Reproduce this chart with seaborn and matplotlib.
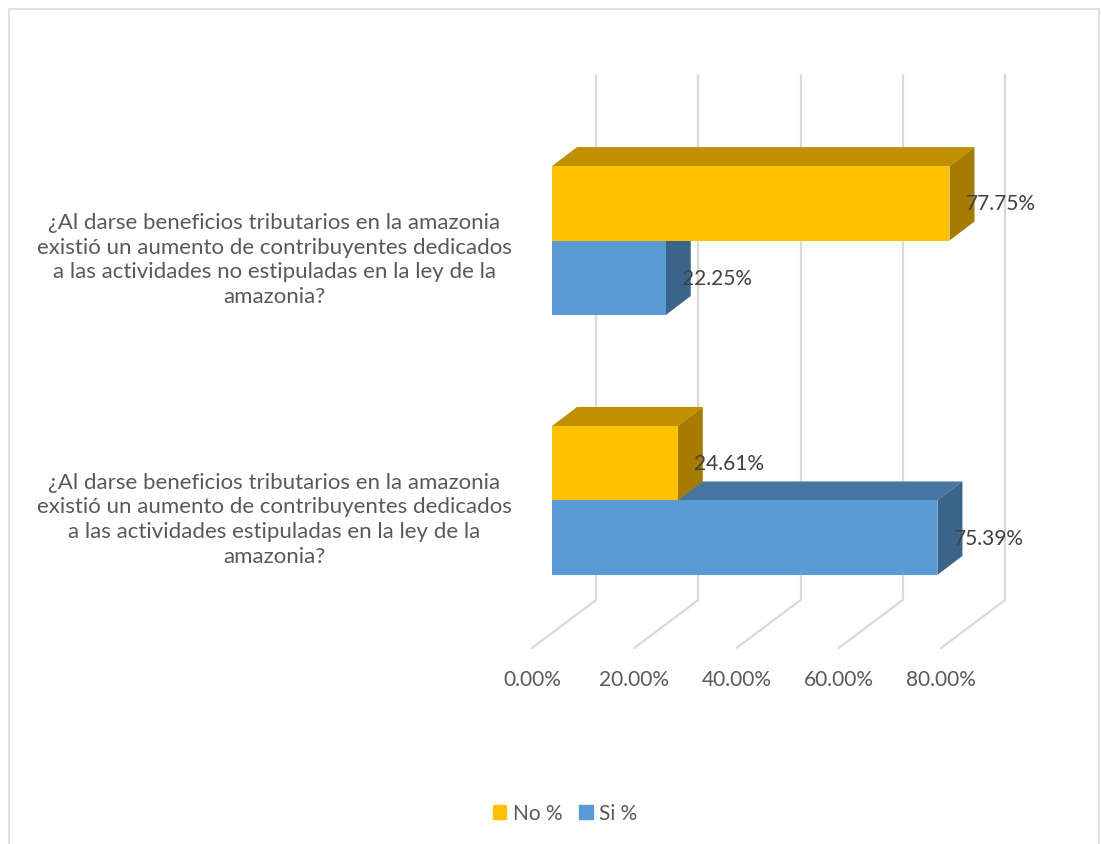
import numpy as np
import pandas as pd
import matplotlib
matplotlib.use("Agg")
import matplotlib.pyplot as plt
from matplotlib.patches import Polygon, Patch, Rectangle
from matplotlib.transforms import offset_copy, Affine2D
import seaborn as sns

# data (top question first)
preguntas = [
    "¿Al darse beneficios tributarios en la amazonia\nexistió un aumento de contribuyentes dedicados\na las actividades no estipuladas en la ley de la\namazonia?",
    "¿Al darse beneficios tributarios en la amazonia\nexistió un aumento de contribuyentes dedicados\na las actividades estipuladas en la ley de la\namazonia?",
]
no_pct = [77.75, 24.61]
si_pct = [22.25, 75.39]
series = ["No %", "Si %"]
x_ticks = [0, 20, 40, 60, 80]

front = {"No %": "#FFC000", "Si %": "#5B9BD5"}
top = {"No %": "#C09000", "Si %": "#4676A1"}
side = {"No %": "#A67C00", "Si %": "#3A6489"}
grid_col = "#D9D9D9"
text_col = "#595959"
label_col = "#404040"


def main():
    sns.set_theme(style="white")
    plt.rcParams["font.family"] = ["Lato", "DejaVu Sans"]

    df = pd.DataFrame({
        "pregunta": preguntas * 2,
        "respuesta": ["No %"] * 2 + ["Si %"] * 2,
        "valor": no_pct + si_pct,
    })

    fig = plt.figure(figsize=(11.01, 8.45), dpi=100)
    W, H = 1101, 845
    # axes = plane of the bars' front faces
    ax = fig.add_axes([552 / W, 1 - 634 / H, 409 / W, 525 / H])

    sns.barplot(data=df, x="valor", y="pregunta", hue="respuesta",
                hue_order=series, palette=front, orient="h", width=0.573,
                legend=False, ax=ax, saturation=1)

    ax.set_xlim(0, 80)
    ax.set_ylim(1.51, -0.51)
    ax.set_xlabel("")
    ax.set_ylabel("")
    for s in ax.spines.values():
        s.set_visible(False)
    ax.grid(False)

    # oblique depth offsets (pixels): back wall and floor
    back = offset_copy(ax.transData, fig, x=44, y=33, units="dots")
    ymin, ymax = ax.get_ylim()
    for t in x_ticks:
        ax.plot([t, t], [ymin, ymax], color=grid_col, lw=1.6, transform=back,
                zorder=0.5, clip_on=False)
        p0 = ax.transData.transform((t, ymin))
        pts = ax.transData.inverted().transform([p0 + [44, 33], p0 + [-20, -15]])
        ax.plot(pts[:, 0], pts[:, 1], color=grid_col, lw=1.6, zorder=0.5,
                clip_on=False)

    # 3d faces for each bar
    bars = list(ax.patches)
    cols = []
    for p in bars:
        fc = matplotlib.colors.to_hex(p.get_facecolor())
        cols.append("No %" if fc.lower() == front["No %"].lower() else "Si %")
    order = np.argsort([-(p.get_y() + p.get_height() / 2) for p in bars])
    d = np.array([25, 19])
    inv = ax.transData.inverted()
    for rank, i in enumerate(order):
        p = bars[i]
        key = cols[i]
        x0, y0, w, h = p.get_x(), p.get_y(), p.get_width(), p.get_height()
        tl, tr, br = ax.transData.transform([(x0, y0), (x0 + w, y0), (x0 + w, y0 + h)])
        z = 2 + rank
        ax.add_patch(Polygon(inv.transform([tl, tr, tr + d, tl + d]),
                             closed=True, fc=top[key], ec="none", zorder=z,
                             clip_on=False))
        ax.add_patch(Polygon(inv.transform([tr, br, br + d, tr + d]),
                             closed=True, fc=side[key], ec="none", zorder=z,
                             clip_on=False))
        p.set_zorder(z + 0.5)
        p.set_edgecolor("none")
        p.set_clip_on(False)
        ax.text(x0 + w, y0 + h / 2, f"{w:.2f}%",
                transform=offset_copy(ax.transData, fig, x=16, y=0, units="dots"),
                ha="left", va="center", fontsize=15, color=label_col,
                zorder=20)

    # axis labels
    ax.set_xticks(x_ticks)
    ax.set_xticklabels([f"{t:.2f}%" for t in x_ticks])
    ax.tick_params(axis="x", length=0, pad=26, labelsize=15, labelcolor=text_col)
    for lab in ax.get_xticklabels():
        lab.set_transform(lab.get_transform() + Affine2D().translate(-20, 0))
    ax.tick_params(axis="y", length=0, pad=200, labelsize=16, labelcolor=text_col)
    for lab in ax.get_yticklabels():
        lab.set_horizontalalignment("center")
        lab.set_multialignment("center")
        lab.set_linespacing(1.3)
        lab.set_transform(lab.get_transform() + Affine2D().translate(0, -14))

    handles = [Patch(color=front[s], label=s) for s in series]
    fig.legend(handles=handles, loc="center",
               bbox_to_anchor=(565 / W, 1 - 814 / H),
               ncol=2, frameon=False, fontsize=15, labelcolor=text_col,
               handlelength=0.65, handleheight=0.65, handletextpad=0.3,
               columnspacing=0.8)

    fig.patches.append(Rectangle((9 / W, -0.05), 1090 / W, 1.05 - 10 / H,
                                 transform=fig.transFigure, fill=False,
                                 ec=grid_col, lw=1.2))

    fig.savefig("out.png", dpi=100)
    plt.close(fig)


if __name__ == "__main__":
    main()
